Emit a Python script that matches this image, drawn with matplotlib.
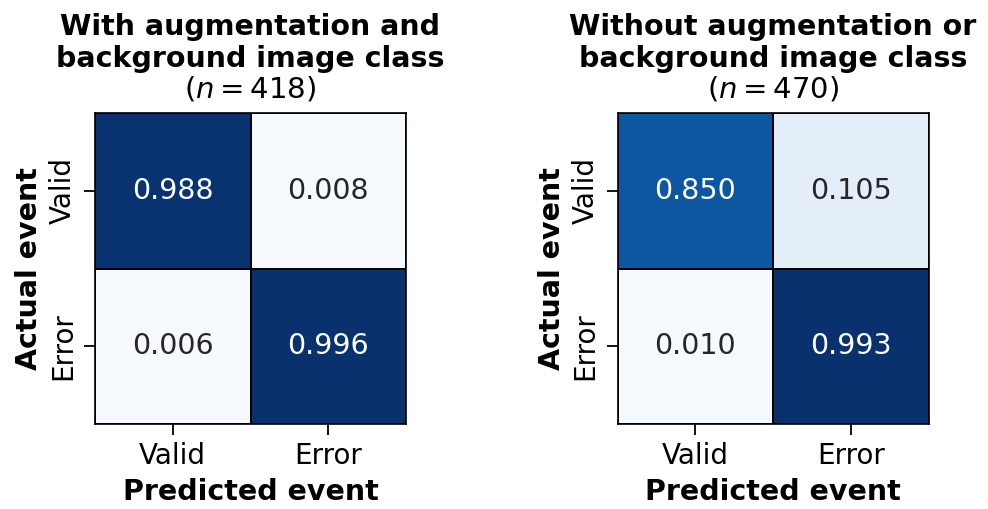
import numpy as np
import matplotlib.pyplot as plt

labels = ["Valid", "Error"]

# rows: actual event, columns: predicted event
cm_aug = [[0.988, 0.008],
          [0.006, 0.996]]
cm_noaug = [[0.850, 0.105],
            [0.010, 0.993]]

titles = ["With augmentation and\nbackground image class",
          "Without augmentation or\nbackground image class"]
counts = [418, 470]


def draw_cm(ax, cm, title, n):
    cm = np.array(cm)
    ax.pcolormesh(cm, cmap="Blues", vmin=0, vmax=1,
                  edgecolors="black", linewidth=1.2)
    ax.set_xlim(0, 2)
    ax.set_ylim(2, 0)
    ax.set_aspect("equal")
    for i in range(2):
        for j in range(2):
            color = "white" if cm[i, j] > 0.5 else "#262626"
            ax.text(j + 0.5, i + 0.5, f"{cm[i, j]:.3f}", ha="center",
                    va="center", fontsize=20.5, color=color)
    ax.set_xticks([0.5, 1.5])
    ax.set_xticklabels(labels, fontsize=20)
    ax.set_yticks([0.5, 1.5])
    ax.set_yticklabels(labels, fontsize=20, rotation=90, va="center")
    ax.tick_params(length=8, width=1.3, pad=5)
    ax.set_xlabel("Predicted event", fontsize=20.5, fontweight="bold",
                  labelpad=6)
    ax.set_ylabel("Actual event", fontsize=20.5, fontweight="bold",
                  labelpad=4)
    for s in ax.spines.values():
        s.set_linewidth(1.2)
    ax.text(0.5, 1.03, f"($n = {n}$)", transform=ax.transAxes,
            ha="center", va="bottom", fontsize=21)
    ax.text(0.5, 1.13, title, transform=ax.transAxes, ha="center",
            va="bottom", fontsize=20.5, fontweight="bold", linespacing=1.15)


fig = plt.figure(figsize=(9.88, 5.09), dpi=100)
ax1 = fig.add_axes([95 / 988, 1 - 424 / 509, 311 / 988, 311 / 509])
ax2 = fig.add_axes([617 / 988, 1 - 424 / 509, 312 / 988, 311 / 509])
draw_cm(ax1, cm_aug, titles[0], counts[0])
draw_cm(ax2, cm_noaug, titles[1], counts[1])

fig.savefig("out.png", dpi=100)
